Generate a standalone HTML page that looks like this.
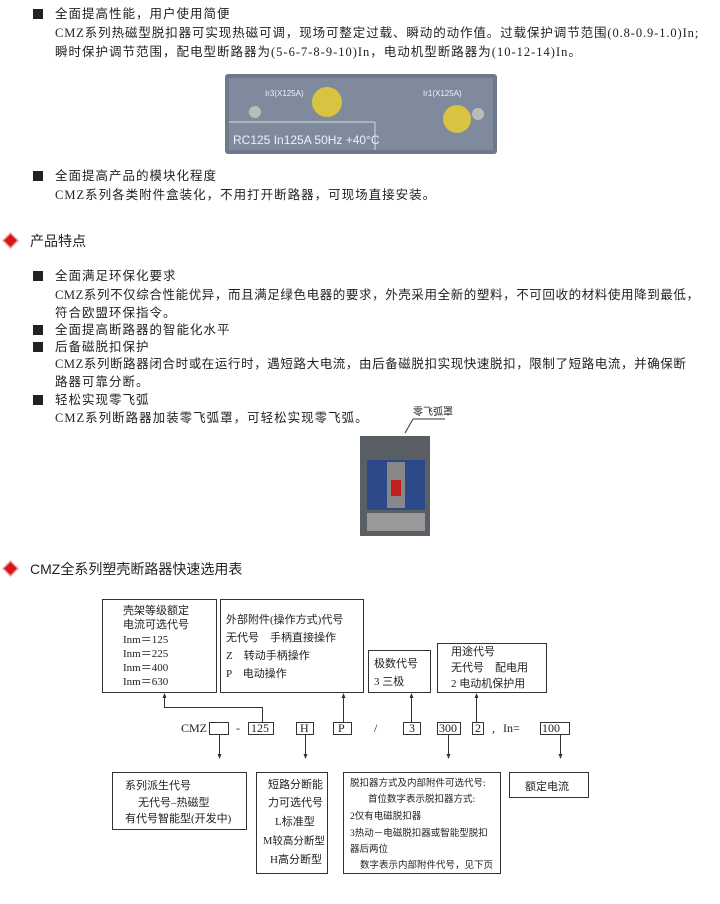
<!DOCTYPE html>
<html><head><meta charset="utf-8"><style>
body{margin:0;width:720px;height:904px;background:#fff;position:relative;overflow:hidden;font-family:"Liberation Serif","Noto Sans CJK SC",serif;color:#222}
.t{position:absolute;font-size:12.5px;line-height:16px;white-space:nowrap;letter-spacing:1px}
.b{position:absolute;width:10px;height:10px;background:#222}
.h{position:absolute;font-family:"Liberation Sans","Noto Sans CJK SC",sans-serif;font-size:14px;white-space:nowrap}
.d{position:absolute;width:9px;height:9px;background:#d01818;transform:rotate(45deg);box-shadow:0 0 0 1.5px #f4a0a0}
</style></head><body>
<div class="b" style="left:33px;top:9px"></div>
<div class="t" style="left:55px;top:6px">全面提高性能，用户使用简便</div>
<div class="t" style="left:55px;top:25px;letter-spacing:0.9px">CMZ系列热磁型脱扣器可实现热磁可调，现场可整定过载、瞬动的动作值。过载保护调节范围(0.8-0.9-1.0)In;</div>
<div class="t" style="left:55px;top:44px">瞬时保护调节范围，配电型断路器为(5-6-7-8-9-10)In，电动机型断路器为(10-12-14)In。</div>
<svg style="position:absolute;left:225px;top:74px" width="272" height="82">
<rect x="0" y="0" width="272" height="80" fill="#6d7a8c" rx="3"/>
<rect x="4" y="4" width="264" height="72" fill="#7f8b9c"/>
<line x1="4" y1="48" x2="150" y2="48" stroke="#cdd" stroke-width="1"/>
<line x1="150" y1="48" x2="150" y2="76" stroke="#cdd"/>
<circle cx="30" cy="38" r="6" fill="#bbb"/><circle cx="253" cy="40" r="6" fill="#bbb"/>
<circle cx="102" cy="28" r="15" fill="#d8c440"/><circle cx="232" cy="45" r="14" fill="#d8c440"/>
<text x="8" y="70" font-size="12" fill="#eef" font-family="Liberation Sans">RC125  In125A  50Hz  +40°C</text>
<text x="40" y="22" font-size="8" fill="#eef" font-family="Liberation Sans">Ir3(X125A)</text>
<text x="198" y="22" font-size="8" fill="#eef" font-family="Liberation Sans">Ir1(X125A)</text>
</svg>
<div class="b" style="left:33px;top:171px"></div>
<div class="t" style="left:55px;top:168px">全面提高产品的模块化程度</div>
<div class="t" style="left:55px;top:187px">CMZ系列各类附件盒装化，不用打开断路器，可现场直接安装。</div>
<div class="d" style="left:6px;top:236px"></div>
<div class="h" style="left:30px;top:231px">产品特点</div>
<div class="b" style="left:33px;top:271px"></div>
<div class="t" style="left:55px;top:268px">全面满足环保化要求</div>
<div class="t" style="left:55px;top:287px;letter-spacing:0.6px">CMZ系列不仅综合性能优异，而且满足绿色电器的要求，外壳采用全新的塑料，不可回收的材料使用降到最低，</div>
<div class="t" style="left:55px;top:305px">符合欧盟环保指令。</div>
<div class="b" style="left:33px;top:325px"></div>
<div class="t" style="left:55px;top:322px">全面提高断路器的智能化水平</div>
<div class="b" style="left:33px;top:342px"></div>
<div class="t" style="left:55px;top:339px">后备磁脱扣保护</div>
<div class="t" style="left:55px;top:356px;letter-spacing:0.6px">CMZ系列断路器闭合时或在运行时，遇短路大电流，由后备磁脱扣实现快速脱扣，限制了短路电流，并确保断</div>
<div class="t" style="left:55px;top:374px">路器可靠分断。</div>
<div class="b" style="left:33px;top:395px"></div>
<div class="t" style="left:55px;top:392px">轻松实现零飞弧</div>
<div class="t" style="left:55px;top:410px">CMZ系列断路器加装零飞弧罩，可轻松实现零飞弧。</div>
<div class="t" style="left:413px;top:405px;font-size:10px;letter-spacing:0">零飞弧罩</div>
<svg style="position:absolute;left:355px;top:418px" width="90" height="122">
<line x1="58" y1="1" x2="90" y2="1" stroke="#333"/><line x1="58" y1="1" x2="50" y2="15" stroke="#333"/>
<rect x="5" y="18" width="70" height="100" fill="#5a5f66"/>
<rect x="12" y="42" width="58" height="50" fill="#2c4a8a"/>
<rect x="32" y="44" width="18" height="46" fill="#888"/>
<rect x="36" y="62" width="10" height="16" fill="#c02020"/>
<rect x="12" y="95" width="58" height="18" fill="#999"/>
</svg>
<div class="d" style="left:6px;top:564px"></div>
<div class="h" style="left:30px;top:559px">CMZ全系列塑壳断路器快速选用表</div>
<svg style="position:absolute;left:0;top:0" width="720" height="904" font-family="Liberation Serif,Noto Sans CJK SC,serif" font-size="11" fill="#222">
<g fill="none" stroke="#333" stroke-width="1">
<rect x="102.5" y="599.5" width="114" height="93"/>
<rect x="220.5" y="599.5" width="143" height="93"/>
<rect x="368.5" y="650.5" width="62" height="42"/>
<rect x="437.5" y="643.5" width="109" height="49"/>
<rect x="209.5" y="722.5" width="19" height="12"/>
<rect x="248.5" y="722.5" width="25" height="12"/>
<rect x="296.5" y="722.5" width="17" height="12"/>
<rect x="333.5" y="722.5" width="18" height="12"/>
<rect x="403.5" y="722.5" width="17" height="12"/>
<rect x="437.5" y="722.5" width="23" height="12"/>
<rect x="472.5" y="722.5" width="11" height="12"/>
<rect x="540.5" y="722.5" width="29" height="12"/>
<rect x="112.5" y="772.5" width="134" height="57"/>
<rect x="256.5" y="772.5" width="71" height="101"/>
<rect x="343.5" y="772.5" width="157" height="101"/>
<rect x="509.5" y="772.5" width="79" height="25"/>
<polyline points="262.5,722 262.5,707.5 164.5,707.5 164.5,696"/>
<line x1="343.5" y1="722" x2="343.5" y2="696"/>
<line x1="411.5" y1="722" x2="411.5" y2="696"/>
<line x1="476.5" y1="722" x2="476.5" y2="696"/>
<line x1="219.5" y1="735" x2="219.5" y2="755"/>
<line x1="305.5" y1="735" x2="305.5" y2="755"/>
<line x1="448.5" y1="735" x2="448.5" y2="755"/>
<line x1="560.5" y1="735" x2="560.5" y2="755"/>
</g>
<g fill="#333">
<polygon points="164.5,693 162.5,698 166.5,698"/><polygon points="343.5,693 341.5,698 345.5,698"/>
<polygon points="411.5,693 409.5,698 413.5,698"/><polygon points="476.5,693 474.5,698 478.5,698"/>
<polygon points="219.5,759 217.5,754 221.5,754"/><polygon points="305.5,759 303.5,754 307.5,754"/>
<polygon points="448.5,759 446.5,754 450.5,754"/><polygon points="560.5,759 558.5,754 562.5,754"/>
</g>
<text x="123" y="614">壳架等级额定</text><text x="123" y="628">电流可选代号</text>
<text x="123" y="643">Inm＝125</text><text x="123" y="657">Inm＝225</text><text x="123" y="671">Inm＝400</text><text x="123" y="685">Inm＝630</text>
<text x="226" y="623">外部附件(操作方式)代号</text><text x="226" y="641">无代号　手柄直接操作</text>
<text x="226" y="659">Z　转动手柄操作</text><text x="226" y="677">P　电动操作</text>
<text x="374" y="667">极数代号</text><text x="374" y="685">3 三极</text>
<text x="451" y="655">用途代号</text><text x="451" y="671">无代号　配电用</text><text x="451" y="687">2 电动机保护用</text>
<g font-size="12"><text x="181" y="732">CMZ</text><text x="236" y="732">-</text><text x="251" y="732">125</text>
<text x="300" y="732">H</text><text x="338" y="732">P</text><text x="374" y="732">/</text><text x="409" y="732">3</text>
<text x="439" y="732">300</text><text x="475" y="732">2</text><text x="492" y="732">,</text><text x="503" y="732">In=</text><text x="542" y="732">100</text></g>
<text x="125" y="789">系列派生代号</text><text x="138" y="806">无代号–热磁型</text><text x="125" y="822">有代号智能型(开发中)</text>
<text x="268" y="788">短路分断能</text><text x="268" y="806">力可选代号</text><text x="275" y="825">L标准型</text><text x="263" y="844" font-size="10.5">M较高分断型</text><text x="270" y="863">H高分断型</text>
<g font-size="9.5"><text x="350" y="786">脱扣器方式及内部附件可选代号:</text><text x="368" y="802">首位数字表示脱扣器方式:</text>
<text x="350" y="819">2仅有电磁脱扣器</text><text x="350" y="836">3热动－电磁脱扣器或智能型脱扣</text><text x="350" y="852">器后两位</text>
<text x="360" y="868">数字表示内部附件代号，见下页</text></g>
<text x="525" y="790">额定电流</text>
</svg>
</body></html>
